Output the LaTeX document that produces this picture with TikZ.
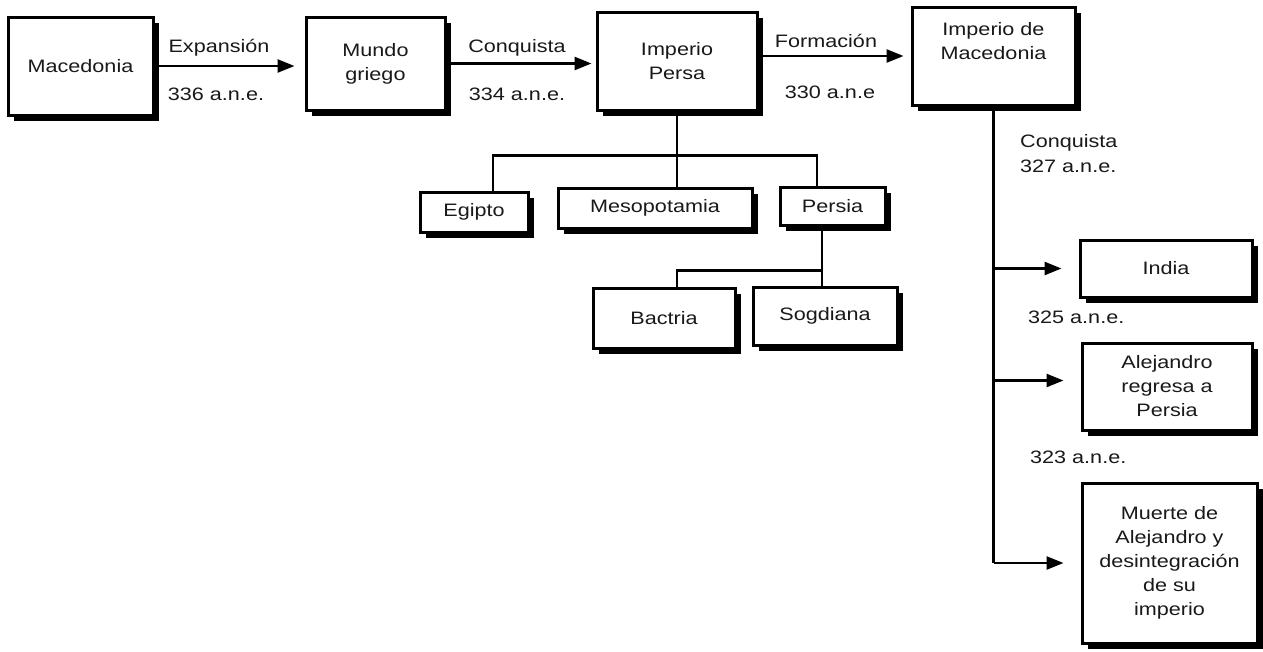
\documentclass[tikz,border=0pt]{standalone}
\usepackage{fontspec}
\setmainfont{Liberation Sans}[FakeStretch=1.2]
\usetikzlibrary{arrows.meta,shadows,calc}
\begin{document}
\begin{tikzpicture}[x=1pt,y=-1pt,
  box/.style={draw=black, line width=3pt, fill=white, align=center, inner sep=0pt,
     text=black!90, font=\fontsize{18}{24}\selectfont,
     drop shadow={shadow xshift=6pt, shadow yshift=-6pt, fill=black, opacity=1}},
  conn/.style={line width=2.5pt, draw=black},
  arr/.style={conn, -{Triangle[length=17pt,width=13pt]}},
  lbl/.style={text=black!90, font=\fontsize{18}{24}\selectfont, inner sep=0pt}]
\fill[white] (0,0) rectangle (1263,651);
\useasboundingbox (0,0) rectangle (1263,651);
% main row
\node[box, minimum width=145pt, minimum height=98pt] (mac) at (80.5,66) {Macedonia};
\node[box, minimum width=139pt, minimum height=93pt] (mundo) at (375.5,63.5) {Mundo\\griego};
\node[box, minimum width=160pt, minimum height=98pt] (persa) at (677,61) {Imperio\\Persa};
\node[box, minimum width=163pt, minimum height=98pt] (impmac) at (993.5,56) {Imperio de\\Macedonia\\[6pt]};
% conquered regions
\node[box, minimum width=108pt, minimum height=40pt] (egipto) at (474,212) {Egipto};
\node[box, minimum width=194pt, minimum height=40pt] (meso) at (655,208) {Mesopotamia};
\node[box, minimum width=105pt, minimum height=38pt] (persia) at (832.5,206) {Persia};
\node[box, minimum width=142pt, minimum height=60pt] (bactria) at (664,318) {Bactria};
\node[box, minimum width=144pt, minimum height=58pt] (sogd) at (825,316) {Sogdiana};
% right column
\node[box, minimum width=172pt, minimum height=57pt] (india) at (1166,268.5) {India};
\node[box, minimum width=170pt, minimum height=87pt] (alej) at (1167,386.5) {Alejandro\\regresa a\\Persia};
\node[box, minimum width=175pt, minimum height=160pt] (muerte) at (1169.5,563) {Muerte de\\Alejandro y\\desintegración\\de su\\imperio};
% top arrows
\draw[arr, shorten >=10pt] (mac.east) -- (mac.east -| mundo.west);
\draw[arr, shorten >=4pt] (mundo.east) -- (mundo.east -| persa.west);
\draw[arr, shorten >=7pt] (persa.east |- impmac.west) -- (impmac.west);
% arrow labels
\node[lbl, anchor=base] (l1) at (219,52) {Expansión};
\node[lbl, anchor=base] (l2) at (216,100) {336 a.n.e.};
\node[lbl, anchor=base] (l3) at (517,52) {Conquista};
\node[lbl, anchor=base] (l4) at (517,100) {334 a.n.e.};
\node[lbl, anchor=base] (l5) at (826,47) {Formación};
\node[lbl, anchor=base] (l6) at (830,98) {330 a.n.e};
% tree under Persa
\draw[conn] (persa.south) -- (persa.south |- meso.north);
\draw[conn] ([xshift=19pt]egipto.north) -- ++(0,-35) -| ([xshift=-15.5pt]persia.north);
\draw[conn] ([xshift=-10.5pt]persia.south) -- ([xshift=-10.5pt]persia.south |- sogd.north);
\draw[conn] ([xshift=13pt]bactria.north) -- ++(0,-16) -| ([xshift=-10.5pt]persia.south);
% right column
\draw[conn] (impmac.south) -- (impmac.south |- muerte.west);
\draw[arr, shorten >=17pt] (impmac.south |- india.west) -- (india.west);
\draw[arr, shorten >=17pt] ([yshift=6pt]impmac.south |- alej.west) -- ([yshift=6pt]alej.west);
\draw[arr, shorten >=17pt] (impmac.south |- muerte.west) -- (muerte.west);
\node[lbl, anchor=base west] (l7) at (1020,147) {Conquista};
\node[lbl, anchor=base west] (l8) at (1020,172) {327 a.n.e.};
\node[lbl, anchor=base west] (l9) at (1028,323) {325 a.n.e.};
\node[lbl, anchor=base west] (l10) at (1030,463) {323 a.n.e.};
\end{tikzpicture}
\end{document}
